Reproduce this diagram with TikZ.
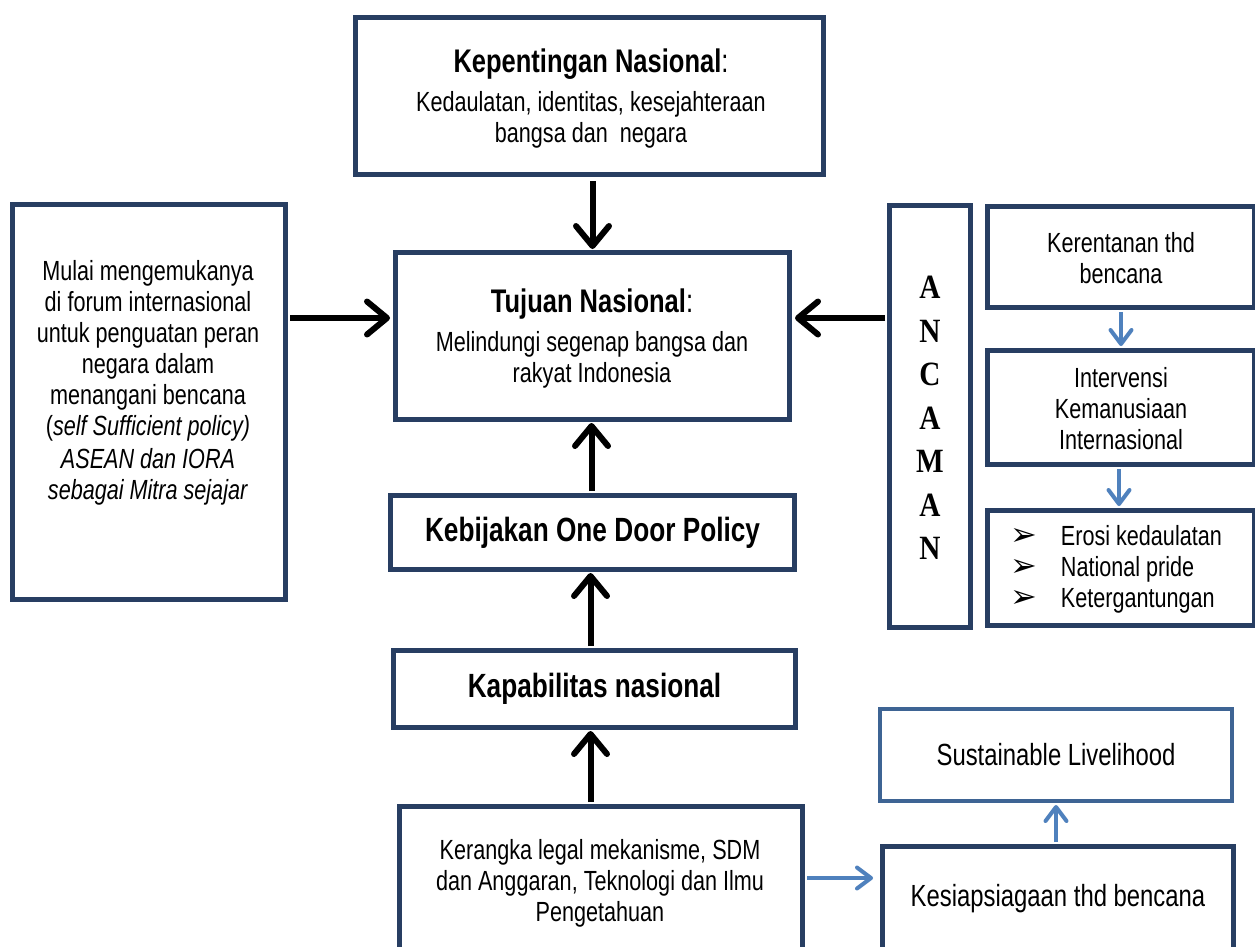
\documentclass[tikz,border=0pt]{standalone}
\usepackage{fontspec}
\setmainfont{Liberation Sans}[FakeStretch=0.78]
\newfontfamily\timesfont{Liberation Serif}[FakeStretch=0.86]
\newfontfamily\dejavu{DejaVu Sans}
\usetikzlibrary{arrows.meta,calc}
\definecolor{navy}{RGB}{40,62,98}
\definecolor{lnavy}{RGB}{62,100,148}
\definecolor{arrblue}{RGB}{79,129,189}
\begin{document}
\begin{tikzpicture}[x=1pt,y=-1pt,
  box/.style={draw=navy, line width=5pt, fill=white, align=center, inner sep=0pt},
  txt/.style={align=center, inner sep=0pt, font=\fontsize{27.7}{31}\selectfont},
  blk/.style={line width=6pt, draw=black, -{Straight Barb[length=20pt,width=33pt,round]}},
  blu/.style={line width=4pt, draw=arrblue, -{Straight Barb[length=14pt,width=21pt,round]}}
]
\fill[white] (0,0) rectangle (1255,946);
\useasboundingbox (0,0) rectangle (1255,946);

% boxes
\node[box, minimum width=468pt, minimum height=157pt] (kep) at (589.5,96) {};
\node[txt] (keptxt) at (591,99) {{\fontsize{32.7}{31}\selectfont\textbf{Kepentingan Nasional}:}\\[8pt]Kedaulatan, identitas, kesejahteraan\\bangsa dan \ negara};

\node[box, minimum width=394pt, minimum height=167pt] (tuj) at (592.5,336) {};
\node[txt] (tujtxt) at (592,339) {{\fontsize{32.7}{31}\selectfont\textbf{Tujuan Nasional}:}\\[8pt]Melindungi segenap bangsa dan\\rakyat Indonesia};

\node[box, minimum width=273pt, minimum height=395pt] (left) at (149,402) {};
\node[txt] (lefttxt) at (148,383) {Mulai mengemukanya\\di forum internasional\\untuk penguatan peran\\negara dalam\\menangani bencana\\(\textit{self Sufficient policy)}\\[2pt]\textit{ASEAN dan IORA}\\\textit{sebagai Mitra sejajar}};

\node[box, minimum width=404pt, minimum height=74pt, font=\fontsize{33.6}{31}\selectfont\bfseries] (keb) at (592.5,532.5) {Kebijakan One Door Policy};
\node[box, minimum width=402pt, minimum height=77pt, font=\fontsize{33.6}{31}\selectfont\bfseries] (kap) at (594.5,689) {Kapabilitas nasional};

\node[box, minimum width=403pt, minimum height=153pt] (ker) at (601,883) {};
\node[txt] (kertxt) at (600,883) {Kerangka legal mekanisme, SDM\\dan Anggaran, Teknologi dan Ilmu\\Pengetahuan};

\node[box, draw=lnavy, line width=4pt, minimum width=352pt, minimum height=92pt, font=\fontsize{30.6}{31}\selectfont] (sus) at (1056,755) {Sustainable Livelihood};
\node[box, minimum width=351pt, minimum height=105pt, font=\fontsize{30.6}{31}\selectfont] (kes) at (1058,899) {Kesiapsiagaan thd bencana};

\node[box, minimum width=81pt, minimum height=422pt] (anc) at (930,416.5) {};
\node[txt, font=\timesfont\bfseries\fontsize{34}{43.5}\selectfont] (anctxt) at (930,418) {A\\N\\C\\A\\M\\A\\N};

\node[box, minimum width=267pt, minimum height=101pt] (kre) at (1121,257) {};
\node[txt] (kretxt) at (1121,258) {Kerentanan thd\\bencana};
\node[box, minimum width=267pt, minimum height=114pt] (int) at (1121,407.5) {};
\node[txt] (inttxt) at (1121,409) {Intervensi\\Kemanusiaan\\Internasional};
\node[box, minimum width=267pt, minimum height=115pt] (ero) at (1121,568) {};
\node[txt] (erotxt) at (1116,570) {\begin{tabular}{@{}l@{\hspace{24pt}}l@{}}
{\dejavu\fontsize{32}{31}\selectfont ➢} & Erosi kedaulatan\\
{\dejavu\fontsize{32}{31}\selectfont ➢} & National pride\\
{\dejavu\fontsize{32}{31}\selectfont ➢} & Ketergantungan
\end{tabular}};

% black arrows
\draw[blk, shorten <=4pt, shorten >=1pt] (tuj.north |- kep.south) -- (tuj.north);
\draw[blk, shorten <=2pt, shorten >=3pt] ([yshift=18pt]left.east |- tuj.west) -- ([yshift=18pt]tuj.west);
\draw[blk, shorten <=2pt, shorten >=3pt] ([yshift=18pt]anc.west |- tuj.east) -- ([yshift=18pt]tuj.east);
\draw[blk, shorten <=2pt, shorten >=1pt] ([xshift=-1pt]keb.north) -- ([xshift=-1pt]keb.north |- tuj.south);
\draw[blk, shorten <=2pt, shorten >=1pt] ([xshift=-4pt]kap.north) -- ([xshift=-4pt]kap.north |- keb.south);
\draw[blk, shorten <=2pt, shorten >=1pt] ([xshift=-4pt]kap.south |- ker.north) -- ([xshift=-4pt]kap.south);

% blue arrows
\draw[blu, shorten <=2pt, shorten >=2pt] (kre.south) -- (int.north);
\draw[blu, shorten <=2pt, shorten >=2pt] ([xshift=-2pt]int.south) -- ([xshift=-2pt]ero.north);
\draw[blu, shorten <=2pt, shorten >=7pt] ([yshift=5pt]ker.east) -- ([yshift=5pt]ker.east -| kes.west);
\draw[blu, shorten <=2pt, shorten >=2pt] (kes.north -| sus.south) -- (sus.south);
\end{tikzpicture}
\end{document}
